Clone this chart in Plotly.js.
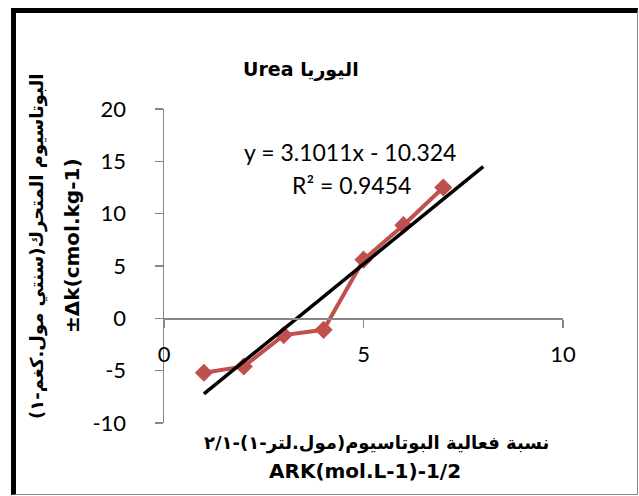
<!DOCTYPE html>
<html>
<head>
<meta charset="utf-8">
<script src="https://cdn.plot.ly/plotly-3.0.1.min.js"></script>
<style>
  html, body { margin: 0; padding: 0; background: #fff; }
  #chart { position: absolute; left: 0; top: 0; width: 639px; height: 496px; }
  #frame { position: absolute; left: 11px; top: 8px; width: 627px; height: 487px;
           box-sizing: border-box; border-left: 5px solid #000; border-top: 5px solid #000;
           border-right: 1px solid #8a8a8a; border-bottom: 1px solid #8a8a8a; pointer-events: none; }
</style>
</head>
<body>
<div id="chart"></div>
<div id="frame"></div>
<script>
// ---- data ----
const xValues = [1, 2, 3, 4, 5, 6, 7];
const yValues = [-5.2, -4.6, -1.6, -1.1, 5.6, 8.9, 12.5];
const trendSlope = 3.1011;
const trendIntercept = -10.324;
const trendX = [1, 8];
const xTicks = [0, 5, 10];
const yTicks = [-10, -5, 0, 5, 10, 15, 20];
const chartTitle = "Urea اليوريا";
const yTitleAr = "\u202Bالبوتاسيوم المتحرك(سنتي مول.كغم-١)\u202C";
const yTitleEn = "±Δk(cmol.kg-1)";
const xTitleAr = "\u202Bنسبة فعالية البوتاسيوم(مول.لتر-١)-٢/١\u202C";
const xTitleEn = "ARK(mol.L-1)-1/2";
const eqText = "y = 3.1011x - 10.324";
const r2Text = "R² = 0.9454";

// ---- layout helpers ----
const W = 639, H = 496;
const M = { l: 164, r: 76, t: 109, b: 73 };
const pw = W - M.l - M.r, ph = H - M.t - M.b;
const px = x => (x - M.l) / pw;
const py = y => (H - M.b - y) / ph;

const trendY = trendX.map(x => trendSlope * x + trendIntercept);
const fontFam = "Lato, 'DejaVu Sans', sans-serif";
const boldFam = "'DejaVu Sans', sans-serif";
const arFam = "'DejaVu Sans', sans-serif";

const traces = [
  { x: xValues, y: yValues, type: 'scatter', mode: 'lines+markers',
    line: { color: '#C0504D', width: 4 },
    marker: { symbol: 'diamond', size: 14, color: '#C0504D' },
    hoverinfo: 'none', showlegend: false },
  { x: trendX, y: trendY, type: 'scatter', mode: 'lines',
    line: { color: '#000000', width: 3.5 },
    hoverinfo: 'none', showlegend: false }
];

const yMin = yTicks[0], yMax = yTicks[yTicks.length - 1];

function ann(text, x, y, family, size, extra, weight) {
  return Object.assign({ text: text, xref: 'paper', yref: 'paper', x: px(x), y: py(y),
    xanchor: 'center', yanchor: 'middle', showarrow: false,
    font: { family: family, size: size, color: '#000', weight: weight || 'normal' } }, extra || {});
}

const layout = {
  width: W, height: H,
  margin: M,
  paper_bgcolor: '#ffffff', plot_bgcolor: 'rgba(0,0,0,0)',
  font: { family: fontFam, color: '#000', size: 22 },
  showlegend: false,
  xaxis: {
    range: [xTicks[0], xTicks[xTicks.length - 1]],
    tickvals: xTicks, ticktext: xTicks.map(String),
    showgrid: false, zeroline: false,
    showline: true, linecolor: '#878787', linewidth: 1.5,
    ticks: 'outside', ticklen: 8, tickcolor: '#878787', tickwidth: 1.5,
    anchor: 'free', position: (0 - yMin) / (yMax - yMin),
    ticklabelstandoff: 8,
    tickfont: { family: fontFam, size: 22, color: '#000' },
    fixedrange: true
  },
  yaxis: {
    range: [yMin, yMax],
    tickvals: yTicks, ticktext: yTicks.map(String),
    showgrid: false, zeroline: false,
    showline: true, linecolor: '#878787', linewidth: 1.5,
    ticks: 'outside', ticklen: 8, tickcolor: '#878787', tickwidth: 1.5,
    ticklabelstandoff: 24,
    tickfont: { family: fontFam, size: 22, color: '#000' },
    fixedrange: true
  },
  annotations: [
    ann(chartTitle, 301, 70, boldFam, 19, null, 'bold'),
    ann(yTitleAr, 37, 247, arFam, 18, { textangle: -90 }, 'bold'),
    ann(yTitleEn, 72, 246, boldFam, 20, { textangle: -90 }, 'bold'),
    ann(xTitleAr, 376, 443, arFam, 18, null, 'bold'),
    ann(xTitleEn, 365, 471, boldFam, 20, null, 'bold'),
    ann(eqText, 350, 152, fontFam, 23),
    ann(r2Text, 351, 185, fontFam, 23)
  ]
};

Plotly.newPlot('chart', traces, layout, { staticPlot: true, displayModeBar: false });
</script>
</body>
</html>
